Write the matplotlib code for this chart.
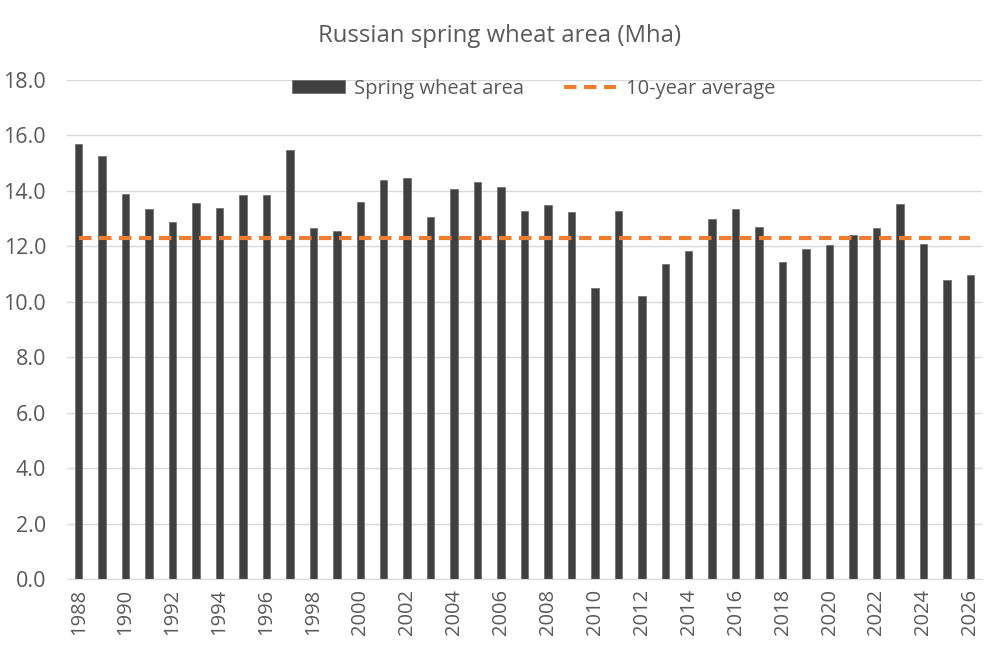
import numpy as np
import matplotlib.pyplot as plt

# Russian spring wheat area, Mha
years = list(range(1988, 2027))
area = [15.69, 15.26, 13.89, 13.36, 12.87, 13.57, 13.39, 13.84, 13.86, 15.47,
        12.65, 12.56, 13.60, 14.40, 14.47, 13.06, 14.06, 14.33, 14.14, 13.29,
        13.50, 13.25, 10.51, 13.29, 10.22, 11.35, 11.84, 12.97, 13.35, 12.69,
        11.42, 11.89, 12.04, 12.40, 12.67, 13.54, 12.08, 10.78, 10.97]
avg10 = 12.30

plt.rcParams['font.family'] = ['Open Sans', 'DejaVu Sans']
txt = '#595959'

fig = plt.figure(figsize=(10, 6.67), dpi=100)
ax = fig.add_axes([0.067, 0.132, 0.915, 0.748])

x = np.arange(len(years))
bars = ax.bar(x, area, width=0.32, color='#404040', edgecolor='#6a6a6a', linewidth=0.5,
              label='Spring wheat area', zorder=2)
line, = ax.plot([x[0], x[-1]], [avg10, avg10], color='#ed7d31', lw=3, ls=(0, (3, 1.8)),
                label='10-year average', zorder=3)

ax.set_xlim(-0.5, len(years) - 0.5)
ax.set_ylim(0, 18)
yt = np.arange(0, 18.1, 2)
ax.set_yticks(yt)
ax.set_yticklabels(['{:.1f}'.format(v) for v in yt])
ax.set_xticks(x[::2])
ax.set_xticklabels([str(y) for y in years[::2]], rotation=90)
ax.tick_params(axis='both', length=0, labelcolor=txt)
ax.tick_params(axis='x', pad=7, labelsize=14.5)
ax.tick_params(axis='y', pad=15, labelsize=15.5)

ax.grid(axis='y', color='#d9d9d9', lw=1, zorder=0)
ax.set_axisbelow(True)
for s in ['top', 'right', 'left']:
    ax.spines[s].set_visible(False)
ax.spines['bottom'].set_color('#d9d9d9')

fig.text(0.5, 0.946, 'Russian spring wheat area (Mha)', ha='center', va='center',
         fontsize=17.2, color=txt)
leg = ax.legend([bars, line], ['Spring wheat area', '10-year average'],
                loc='center', bbox_to_anchor=(0.51, 0.983), ncol=2, frameon=False,
                fontsize=14.5, handlelength=2.6, handleheight=0.6, columnspacing=2.0,
                handletextpad=0.45, labelcolor=txt, borderaxespad=0)

fig.savefig('out.png', dpi=100)
